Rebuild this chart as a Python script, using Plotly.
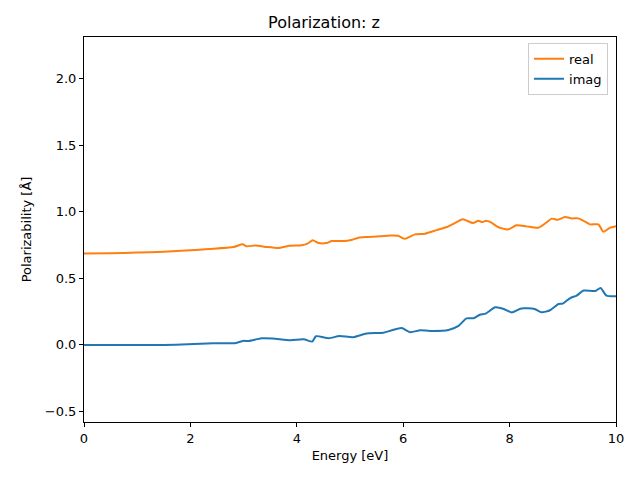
import plotly.graph_objects as go

energy_real = [0.0, 0.5, 1.0, 1.5, 2.0, 2.34, 2.81, 2.98, 3.06, 3.22, 3.44, 3.65, 3.87, 4.09, 4.2, 4.3, 4.41, 4.56,
               4.66, 4.88, 5.0, 5.16, 5.31, 5.56, 5.75, 5.9, 6.03, 6.22, 6.41, 6.63, 6.82, 6.97, 7.12, 7.31,
               7.41, 7.49, 7.56, 7.65, 7.78, 7.97, 8.13, 8.32, 8.54, 8.68, 8.79, 8.91, 9.04, 9.17, 9.29,
               9.4, 9.51, 9.67, 9.76, 9.89, 10.0]
real = [0.686, 0.688, 0.693, 0.70, 0.71, 0.72, 0.735, 0.755, 0.74, 0.747, 0.735, 0.728, 0.745, 0.748, 0.76, 0.785,
        0.765, 0.765, 0.78, 0.78, 0.785, 0.805, 0.81, 0.815, 0.822, 0.82, 0.797, 0.83, 0.835, 0.862, 0.885, 0.915,
        0.943, 0.915, 0.932, 0.922, 0.932, 0.92, 0.885, 0.867, 0.898, 0.89, 0.88, 0.915, 0.948, 0.94, 0.96,
        0.95, 0.95, 0.93, 0.905, 0.905, 0.85, 0.88, 0.892]

energy_imag = [0.0, 0.5, 1.0, 1.5, 1.95, 2.43, 2.86, 2.99, 3.1, 3.34, 3.55, 3.88, 4.13, 4.29, 4.36, 4.6, 4.8,
               5.06, 5.31, 5.63, 5.79, 5.97, 6.13, 6.32, 6.5, 6.85, 7.04, 7.19, 7.32, 7.44, 7.55, 7.73,
               7.89, 8.04, 8.22, 8.47, 8.6, 8.76, 8.92, 9.0, 9.14, 9.26, 9.39, 9.61, 9.71, 9.82, 10.0]
imag = [0.0, 0.0, 0.0, 0.0, 0.004, 0.012, 0.015, 0.03, 0.03, 0.05, 0.048, 0.035, 0.042, 0.025, 0.065, 0.05,
        0.066, 0.058, 0.085, 0.092, 0.11, 0.126, 0.095, 0.11, 0.105, 0.112, 0.143, 0.199, 0.2, 0.226, 0.235, 0.282,
        0.27, 0.244, 0.274, 0.27, 0.245, 0.26, 0.307, 0.31, 0.352, 0.37, 0.408, 0.405, 0.428, 0.37, 0.365]

fig = go.Figure()
fig.add_trace(go.Scatter(x=energy_real, y=real, mode="lines", name="real",
                         line=dict(color="#ff7f0e", width=2, shape="spline", smoothing=0.6)))
fig.add_trace(go.Scatter(x=energy_imag, y=imag, mode="lines", name="imag",
                         line=dict(color="#1f77b4", width=2, shape="spline", smoothing=0.6)))

axis_common = dict(showline=True, linecolor="black", linewidth=1, mirror=True, ticks="outside",
                   ticklen=4, tickcolor="black", showgrid=False, zeroline=False,
                   tickfont=dict(family="DejaVu Sans", size=13, color="black"))

fig.update_layout(
    width=632, height=472,
    paper_bgcolor="white", plot_bgcolor="white",
    margin=dict(l=76, r=24, t=29, b=58),
    title=dict(text="Polarization: z", x=0.5, xanchor="center", y=0.970, yanchor="middle",
               font=dict(family="DejaVu Sans", size=16, color="black")),
    xaxis=dict(range=[0, 10], tickvals=[0, 2, 4, 6, 8, 10],
               title=dict(text="Energy [eV]", font=dict(family="DejaVu Sans", size=13, color="black"), standoff=6),
               **axis_common),
    yaxis=dict(range=[-0.579, 2.312], tickvals=[-0.5, 0, 0.5, 1.0, 1.5, 2.0],
               ticktext=["\u22120.5", "0.0", "0.5", "1.0", "1.5", "2.0"],
               title=dict(text="Polarizability [Å]", font=dict(family="DejaVu Sans", size=13, color="black"), standoff=10),
               **axis_common),
    legend=dict(x=0.985, y=0.985, xanchor="right", yanchor="top",
                bgcolor="rgba(255,255,255,0.8)", bordercolor="#cccccc", borderwidth=1,
                font=dict(family="DejaVu Sans", size=13, color="black")),
    showlegend=True,
)

fig.write_html("out.html")
